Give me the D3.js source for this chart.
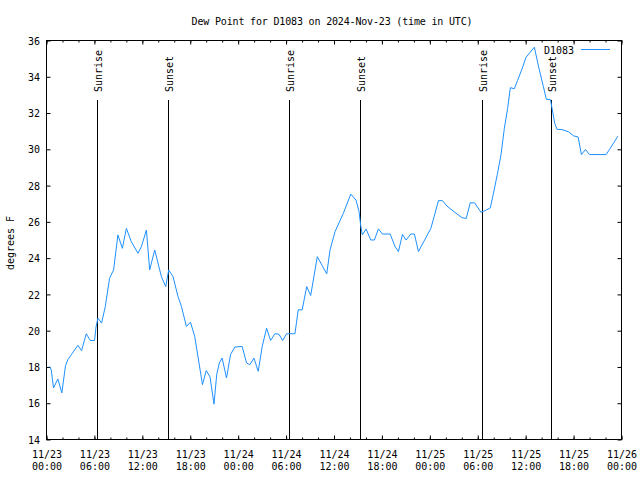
<!DOCTYPE html>
<html>
<head>
<meta charset="utf-8">
<script src="https://cdn.jsdelivr.net/npm/d3@7"></script>
<style>
  html, body { margin: 0; padding: 0; background: #fff; }
  svg { display: block; }
  text { font-family: "DejaVu Sans Mono", monospace; font-size: 10px; fill: #000; }
</style>
</head>
<body>
<svg id="chart" width="640" height="480"></svg>
<script>
// ---- data ----
const title = "Dew Point for D1083 on 2024-Nov-23 (time in UTC)";
const yLabel = "degrees F";
const seriesName = "D1083";
const startTime = "2024-11-23T00:00:00Z";
const endTime = "2024-11-26T00:00:00Z";
// hours since 2024-11-23 00:00 UTC
const hours = [0.38,0.59,0.88,1.42,1.92,2.38,2.67,3.93,4.39,4.98,5.48,6.02,6.20,6.44,6.90,7.36,7.90,8.40,8.94,9.50,10.00,10.62,11.45,11.88,12.51,12.92,13.55,14.39,14.93,15.30,15.84,16.47,16.90,17.52,18.03,18.56,19.53,20.00,20.48,20.97,21.32,21.64,21.99,22.54,23.04,23.58,24.50,25.05,25.46,25.97,26.51,27.01,27.56,28.06,28.60,29.10,29.57,30.07,31.11,31.52,32.02,32.58,33.08,33.91,35.09,35.50,36.13,37.17,38.10,38.76,39.14,39.35,39.55,40.02,40.60,41.06,41.56,42.06,43.03,43.65,44.07,44.57,45.03,45.62,46.07,46.57,48.13,49.08,49.58,50.14,50.77,52.02,52.56,53.06,53.60,54.40,54.94,55.57,55.98,56.45,56.91,57.33,57.74,58.08,58.58,58.99,59.55,60.05,60.59,61.09,61.63,62.18,62.59,63.10,63.31,63.64,63.94,64.56,65.39,66.02,66.57,66.98,67.49,67.99,70.08,70.50,71.04,71.54];
const dewPoint = [18.03,17.85,16.84,17.34,16.57,18.07,18.4,19.19,18.9,19.83,19.46,19.46,20.2,20.69,20.42,21.33,22.89,23.35,25.28,24.54,25.64,24.91,24.27,24.63,25.55,23.35,24.45,22.98,22.43,23.35,22.98,21.88,21.33,20.23,20.47,19.68,17.03,17.8,17.45,15.95,17.6,18.22,18.49,17.39,18.68,19.1,19.13,18.22,18.12,18.49,17.76,19.13,20.14,19.46,19.83,19.81,19.46,19.83,19.83,21.15,21.15,22.43,21.94,24.08,23.13,24.45,25.46,26.47,27.53,27.2,26.56,25.77,25.28,25.61,25.0,25.0,25.61,25.33,25.33,24.63,24.36,25.31,25.0,25.33,25.33,24.36,25.64,27.17,27.17,26.87,26.65,26.23,26.19,27.05,27.05,26.53,26.62,26.77,27.6,28.62,29.7,31.15,32.25,33.4,33.34,33.8,34.44,35.08,35.36,35.63,34.53,33.53,32.76,32.74,32.25,31.42,31.1,31.09,30.96,30.74,30.68,29.71,29.99,29.71,29.71,30.0,30.37,30.72];
const sunHours = [6.31, 15.20, 30.40, 39.30, 54.48, 63.20];
const sunLabels = ["Sunrise","Sunset","Sunrise","Sunset","Sunrise","Sunset"];
const yTicks = [14,16,18,20,22,24,26,28,30,32,34,36];

// ---- chart ----
const svg = d3.select("#chart");
svg.append("rect").attr("width",640).attr("height",480).attr("fill","#fff");

const t0 = new Date(startTime), t1 = new Date(endTime);
const toDate = h => new Date(t0.getTime() + h * 3600e3);
const x = d3.scaleUtc().domain([t0, t1]).range([46.5, 621.5]);
const y = d3.scaleLinear().domain([14, 36]).range([439.5, 40.5]);

const majorTicks = d3.utcHour.every(6).range(t0, new Date(t1.getTime() + 1));
const minorTicks = d3.utcHour.every(2).range(t0, new Date(t1.getTime() + 1));

function styleAxis(g) {
  g.select(".domain").remove();
  g.selectAll(".tick line").attr("stroke", "#000").attr("stroke-width", 1);
  g.selectAll(".tick text").attr("font-family", "DejaVu Sans Mono, monospace").attr("font-size", 10).attr("fill", "#000");
}

// minor ticks
svg.append("g").attr("transform", "translate(0,439.5)")
  .call(d3.axisBottom(x).tickValues(minorTicks).tickSize(-2).tickFormat(""))
  .call(styleAxis);
svg.append("g").attr("transform", "translate(0,40.5)")
  .call(d3.axisTop(x).tickValues(minorTicks).tickSize(-2).tickFormat(""))
  .call(styleAxis);

// major x ticks with two-line labels
const fmtDate = d3.utcFormat("%m/%d"), fmtTime = d3.utcFormat("%H:%M");
const xAxisG = svg.append("g").attr("transform", "translate(0,439.5)")
  .call(d3.axisBottom(x).tickValues(majorTicks).tickSize(-4).tickPadding(0).tickFormat(fmtDate))
  .call(styleAxis);
xAxisG.selectAll(".tick text").each(function(d) {
  const t = d3.select(this);
  t.text(null).attr("y", 0).attr("dy", null);
  t.append("tspan").attr("x", 0).attr("y", 18.5).text(fmtDate(d));
  t.append("tspan").attr("x", 0).attr("y", 30).text(fmtTime(d));
});
svg.append("g").attr("transform", "translate(0,40.5)")
  .call(d3.axisTop(x).tickValues(majorTicks).tickSize(-4).tickFormat(""))
  .call(styleAxis);

// y axes
svg.append("g").attr("transform", "translate(46.5,0)")
  .call(d3.axisLeft(y).tickValues(yTicks).tickSize(-4).tickPadding(6.5).tickFormat(d3.format("d")))
  .call(styleAxis)
  .selectAll(".tick text").attr("dy", "0.36em");
svg.append("g").attr("transform", "translate(621.5,0)")
  .call(d3.axisRight(y).tickValues(yTicks).tickSize(-4).tickFormat(""))
  .call(styleAxis);

// border
svg.append("rect")
  .attr("x", x.range()[0]).attr("y", y.range()[1])
  .attr("width", x.range()[1] - x.range()[0]).attr("height", y.range()[0] - y.range()[1])
  .attr("fill", "none").attr("stroke", "#000").attr("stroke-width", 1);

// sunrise/sunset lines
const sun = svg.append("g");
sunHours.forEach((h, i) => {
  const sx = Math.round(x(toDate(h))) + 0.5;
  sun.append("line").attr("x1", sx).attr("x2", sx).attr("y1", 100).attr("y2", y(14))
    .attr("stroke", "#000").attr("stroke-width", 1);
  sun.append("text").attr("transform", `translate(${sx},92) rotate(-90)`)
    .attr("text-anchor", "start").attr("dy", "4.2").text(sunLabels[i]);
});

// data line
const data = hours.map((h, i) => ({ t: toDate(h), v: dewPoint[i] }));
svg.append("path").datum(data)
  .attr("fill", "none").attr("stroke", "#1e90ff").attr("stroke-width", 1)
  .attr("d", d3.line().x(d => x(d.t)).y(d => y(d.v)));

// title
svg.append("text").attr("x", 332).attr("y", 25.3).attr("text-anchor", "middle")
  .attr("letter-spacing", "-0.17").text(title);

// y label
svg.append("text").attr("transform", "translate(14,243) rotate(-90)")
  .attr("text-anchor", "middle").text(yLabel);

// legend
svg.append("text").attr("x", 574).attr("y", 53.8).attr("text-anchor", "end").text(seriesName);
svg.append("line").attr("x1", 581).attr("x2", 610).attr("y1", 49.5).attr("y2", 49.5)
  .attr("stroke", "#1e90ff").attr("stroke-width", 1);
</script>
</body>
</html>
